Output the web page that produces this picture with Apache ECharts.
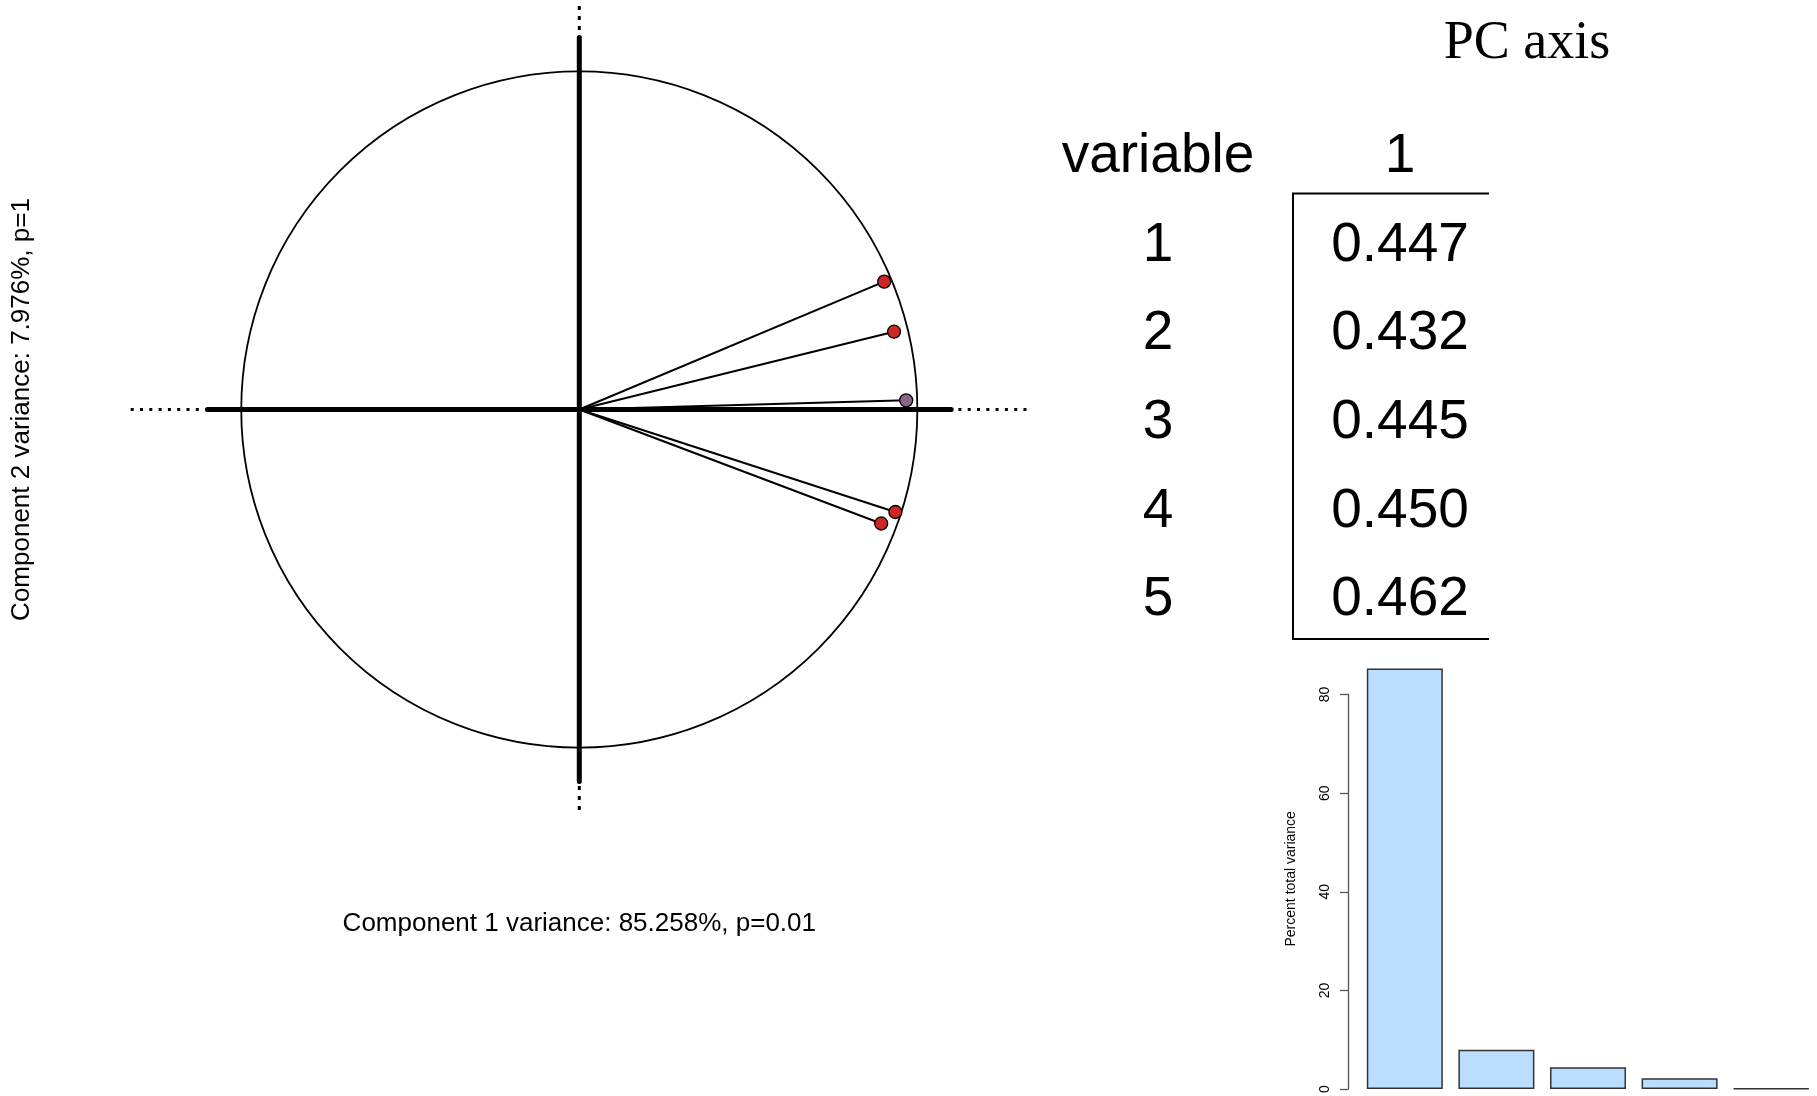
<!DOCTYPE html>
<html><head><meta charset="utf-8">
<script src="https://cdn.jsdelivr.net/npm/echarts@6/dist/echarts.min.js"></script>
<style>html,body{margin:0;padding:0;background:#fff}#c{width:1817px;height:1096px}</style>
</head><body><div id="c"></div>
<script>
// ---------- data ----------
const varNames = ['1', '2', '3', '4', '5'];
const pc1Corr = [0.902, 0.931, 0.967, 0.935, 0.893];
const pc2Corr = [0.378, 0.230, 0.027, -0.303, -0.337];
const loadings = ['0.447', '0.432', '0.445', '0.450', '0.462'];
const pcCategories = ['1', '2', '3', '4', '5'];
const pctVariance = [85.258, 7.976, 4.42, 2.21, 0.136];
const xLabel = 'Component 1 variance: 85.258%, p=0.01';
const yLabel = 'Component 2 variance: 7.976%, p=1';
const tableTitle = 'PC axis';
const tableHeader = ['variable', '1'];

// ---------- styles / layout ----------
const pointColors = ['#CD2626', '#CD2626', '#8B668B', '#CD2626', '#CD2626'];
const XR = 1.327, YR = 1.193, AX = 1.1;
const sans = '"Liberation Sans", Arial, sans-serif';

const chart = echarts.init(document.getElementById('c'));

const lineSeries = (data, style, z) => ({
  type: 'line', xAxisIndex: 0, yAxisIndex: 0, data, symbol: 'none', silent: true,
  animation: false, lineStyle: Object.assign({ color: '#000' }, style), z
});

// table graphic
const tblX = { label: 1158, value: 1400 };
const headerY = 157, rowStep = 88.6;
const graphics = [];
graphics.push({ type: 'text', style: { text: tableTitle, x: 1527, y: 44, font: '54px "Liberation Serif", "Times New Roman", serif', textAlign: 'center', textVerticalAlign: 'middle', fill: '#000' } });
graphics.push({ type: 'text', style: { text: tableHeader[0], x: tblX.label, y: headerY, font: '55px ' + sans, textAlign: 'center', textVerticalAlign: 'middle', fill: '#000' } });
graphics.push({ type: 'text', style: { text: tableHeader[1], x: tblX.value, y: headerY, font: '55px ' + sans, textAlign: 'center', textVerticalAlign: 'middle', fill: '#000' } });
varNames.forEach((v, i) => {
  const y = headerY + rowStep * (i + 1);
  graphics.push({ type: 'text', style: { text: v, x: tblX.label, y, font: '55px ' + sans, textAlign: 'center', textVerticalAlign: 'middle', fill: '#000' } });
  graphics.push({ type: 'text', style: { text: loadings[i], x: tblX.value, y, font: '55px ' + sans, textAlign: 'center', textVerticalAlign: 'middle', fill: '#000' } });
});
graphics.push({ type: 'polyline', shape: { points: [[1489, 193.5], [1293, 193.5], [1293, 639], [1489, 639]] }, style: { stroke: '#000', lineWidth: 2, fill: null } });

const option = {
  animation: false,
  backgroundColor: '#fff',
  grid: [
    { left: 130.7, top: 6, width: 897.2, height: 807 },
    { left: 1359, top: 694.5, width: 460, height: 400 }
  ],
  xAxis: [
    { type: 'value', gridIndex: 0, min: -XR, max: XR, axisLine: { show: false }, axisTick: { show: false }, axisLabel: { show: false }, splitLine: { show: false },
      name: xLabel, nameLocation: 'middle', nameGap: 98, nameTextStyle: { fontFamily: sans, fontSize: 26, color: '#000' } },
    { type: 'category', gridIndex: 1, data: pcCategories, show: false }
  ],
  yAxis: [
    { type: 'value', gridIndex: 0, min: -YR, max: YR, axisLine: { show: false }, axisTick: { show: false }, axisLabel: { show: false }, splitLine: { show: false },
      name: yLabel, nameLocation: 'middle', nameRotate: 90, nameGap: 96, nameTextStyle: { fontFamily: sans, fontSize: 26, color: '#000' } },
    { type: 'value', gridIndex: 1, min: 0, max: 80, interval: 20, offset: 11,
      axisLine: { show: true, lineStyle: { color: '#555', width: 1.3 } },
      axisTick: { show: true, length: 8, lineStyle: { color: '#555', width: 1.3 } },
      axisLabel: { rotate: 90, fontFamily: sans, fontSize: 14, color: '#000', margin: 16 },
      splitLine: { show: false },
      name: 'Percent total variance', nameLocation: 'middle', nameRotate: 90, nameGap: 50,
      nameTextStyle: { fontFamily: sans, fontSize: 14, color: '#000', padding: [0, 0, 0, 26] } }
  ],
  graphic: graphics,
  series: [
    {
      type: 'custom', xAxisIndex: 0, yAxisIndex: 0, data: [[0, 0, 1]], clip: false, silent: true, z: 1,
      renderItem(params, api) {
        const c = api.coord([api.value(0), api.value(1)]);
        const r = api.size([api.value(2), 0])[0];
        return { type: 'circle', shape: { cx: c[0], cy: c[1], r }, style: { fill: 'none', stroke: '#000', lineWidth: 1.8 } };
      }
    },
    lineSeries([[-XR, 0], [XR, 0]], { width: 3, type: [3, 6.3], cap: 'butt' }, 2),
    lineSeries([[0, YR], [0, -YR]], { width: 3, type: [4, 6], cap: 'butt' }, 2),
    lineSeries([[-AX, 0], [AX, 0]], { width: 5, cap: 'round' }, 3),
    lineSeries([[0, -AX], [0, AX]], { width: 5, cap: 'round' }, 3),
    {
      type: 'custom', xAxisIndex: 0, yAxisIndex: 0, clip: false, silent: true, z: 4,
      data: pc1Corr.map((x, i) => [x, pc2Corr[i]]),
      renderItem(params, api) {
        const o = api.coord([0, 0]);
        const p = api.coord([api.value(0), api.value(1)]);
        return { type: 'line', shape: { x1: o[0], y1: o[1], x2: p[0], y2: p[1] }, style: { stroke: '#000', lineWidth: 2 } };
      }
    },
    {
      type: 'scatter', xAxisIndex: 0, yAxisIndex: 0, z: 5, symbolSize: 13,
      data: pc1Corr.map((x, i) => ({ value: [x, pc2Corr[i]], itemStyle: { color: pointColors[i] } })),
      itemStyle: { borderColor: '#000', borderWidth: 1.3, opacity: 1 }
    },
    {
      type: 'bar', xAxisIndex: 1, yAxisIndex: 1, data: pctVariance, clip: false,
      barCategoryGap: '17%',
      itemStyle: { color: '#BBDDFF', borderColor: '#333', borderWidth: 1.5 }
    }
  ]
};
chart.setOption(option);
</script>
</body></html>
